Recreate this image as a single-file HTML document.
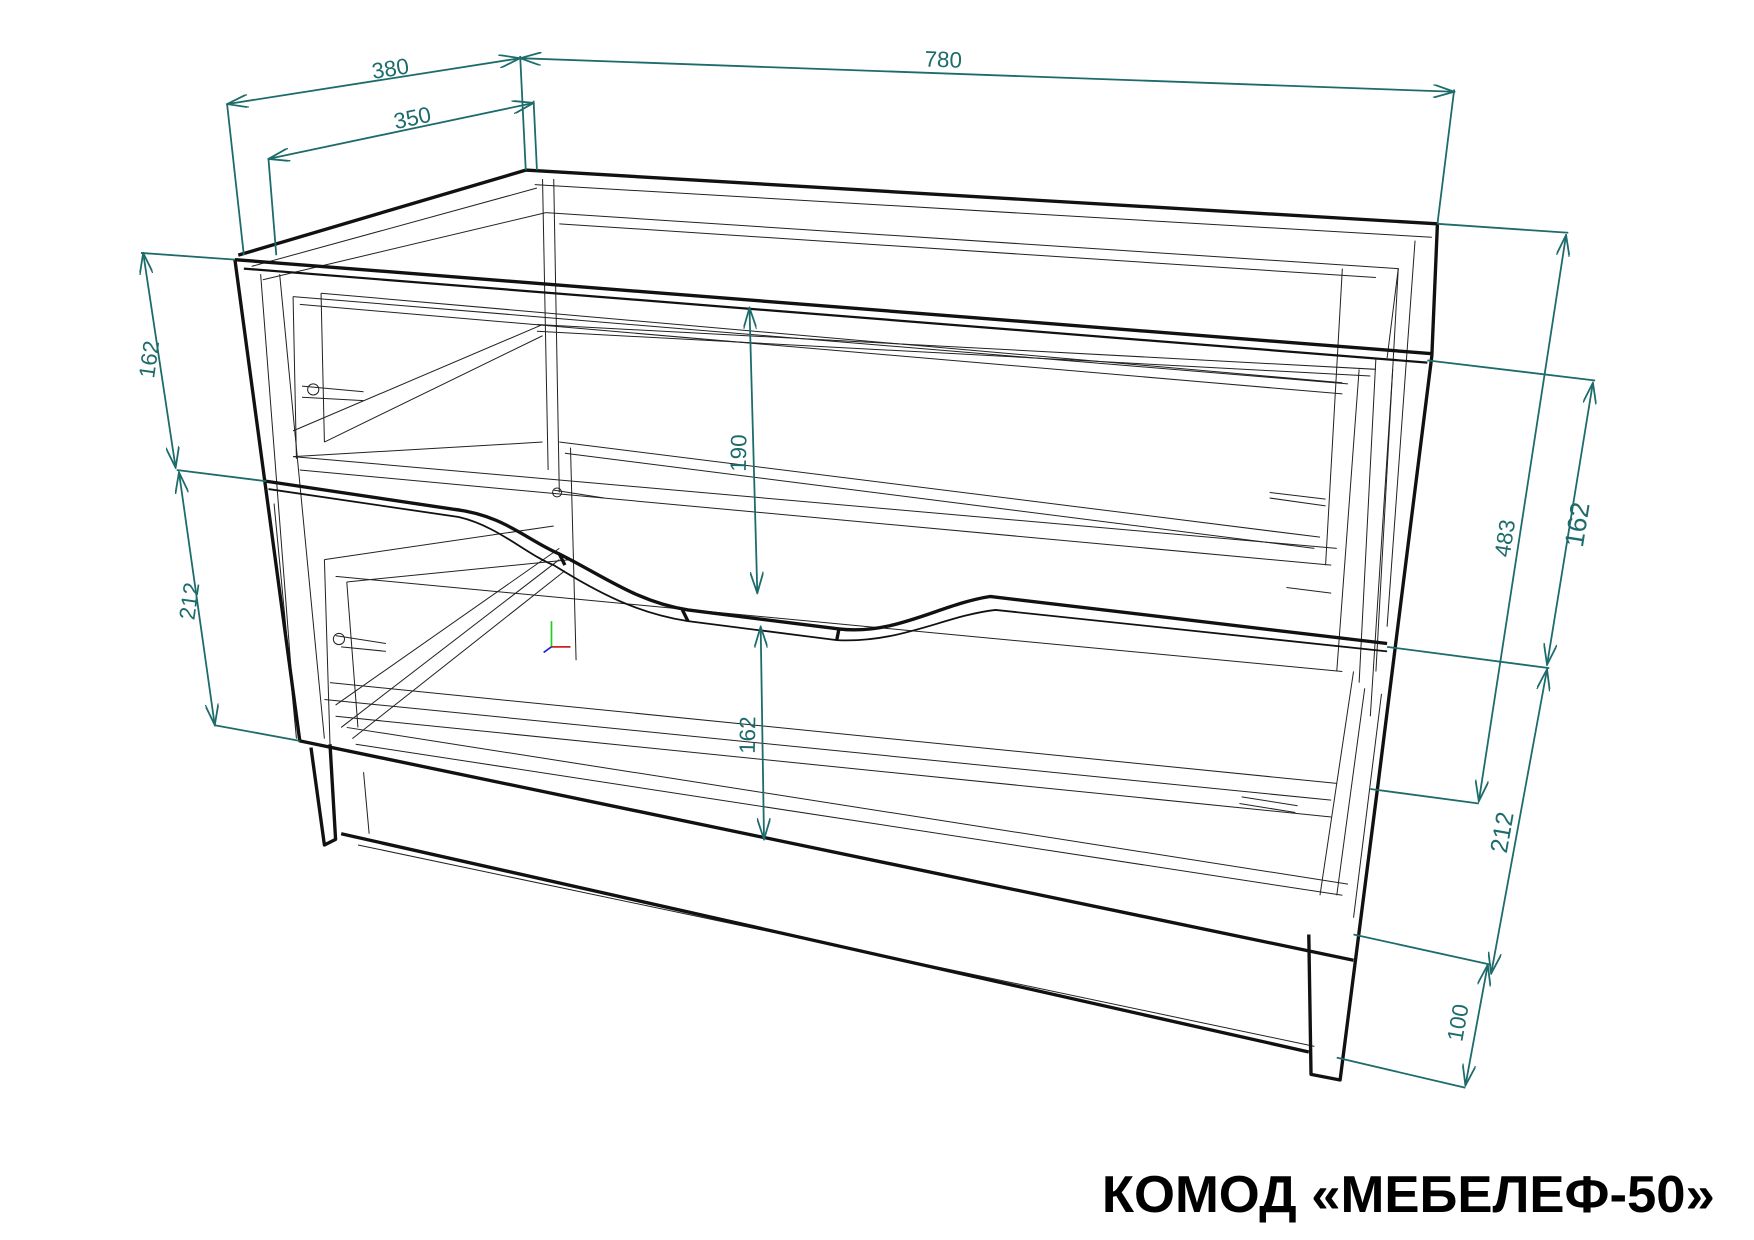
<!DOCTYPE html>
<html><head><meta charset="utf-8"><style>
html,body{margin:0;padding:0;background:#fff;}
svg{display:block;}
</style></head><body>
<svg width="1754" height="1240" viewBox="0 0 1568 1108" preserveAspectRatio="none" xmlns="http://www.w3.org/2000/svg">
<defs>
<marker id="a" viewBox="0 0 20 12" refX="19" refY="6" markerWidth="20" markerHeight="12" markerUnits="userSpaceOnUse" orient="auto-start-reverse">
<path d="M0,0 L19,6 L0,12" fill="none" stroke="#1d6b6b" stroke-width="1.6"/>
</marker>
</defs>
<rect width="1568" height="1108" fill="#fff"/>
<!-- thin inner lines -->
<g stroke="#222" stroke-width="0.9" fill="none">
<path d="M478,165 L1280,212 M488,190 L1250,240 L1240,320 M500,200 L1230,248"/>
<path d="M225,238 L480,168 M235,250 L488,190 M262,265 L1205,343 M268,272 L1200,352 M287,262 L1200,342"/>
<path d="M262,265 L265,410 M287,262 L290,395 M290,395 L485,300 M262,385 L485,290 M262,408 L1195,490"/>
<path d="M485,160 L490,420 M495,160 L500,440 M480,290 L1230,330 M480,296 L1225,336"/>
<path d="M262,408 L485,395 M268,420 L1190,505 M245,450 L265,660 M233,245 L265,660 M250,245 L290,660"/>
<path d="M290,500 L495,470 M300,515 L1200,600 M310,520 L510,500 M295,610 L1195,700 M290,625 L1190,715 M300,640 L1190,730"/>
<path d="M290,500 L295,665 M310,520 L320,650 M305,650 L500,500 M315,660 L505,510 M300,630 L500,490"/>
<path d="M510,400 L515,590 M500,395 L1180,480 M505,405 L1175,490"/>
<path d="M318,665 L1200,800 M310,650 L1205,790 M320,755 L1175,935 M325,690 L330,745"/>
<path d="M1200,240 L1185,505 M1215,330 L1195,600 M1230,320 L1215,610 M1245,330 L1225,640 M1220,615 L1195,800 M1235,620 L1210,820 M1210,600 L1180,800"/>
<path d="M1250,240 L1230,600 M1265,215 L1240,560"/>
<path d="M270,345 L325,350 M270,355 L325,358 M300,568 L345,575 M305,578 L345,582 M495,438 L540,445 M1135,445 L1185,452 M1135,440 L1185,446 M1110,712 L1160,720 M1108,718 L1158,726 M1150,525 L1190,530"/>
<circle cx="280" cy="348" r="5"/><circle cx="303" cy="571" r="5"/><circle cx="498" cy="440" r="4"/>
</g>
<!-- wave handle -->
<g stroke="#111" stroke-width="3" fill="none">
<path d="M238,430 L405,455 C450,460 470,482 500,495 C540,515 570,538 615,545 L750,562 C800,568 840,540 885,533 L1240,575"/>
<path d="M240,437 L410,462 C445,470 470,495 495,505 C535,530 570,548 615,555 L748,572 C805,575 845,550 890,545 L1240,582" stroke-width="1.6"/>
<path d="M500,495 L505,505 M610,545 L615,555 M750,562 L748,572"/>
</g>
<!-- thick outer lines -->
<g stroke="#111" stroke-width="3" fill="none" stroke-linejoin="round">
<path d="M213,228 L470,152 L1285,200 L1280,318"/>
<path d="M210,232 L1280,316"/>
<path d="M218,240 L1276,324" stroke-width="2"/>
<path d="M210,232 L268,662 L1210,858"/>
<path d="M1280,318 L1232,700 L1198,965 L1172,960 L1170,835"/>
<path d="M278,668 L290,755 L300,750 L295,665"/>
<path d="M305,745 L1170,940"/>
</g>
<!-- axis icon -->
<g stroke-width="1.5"><line x1="493" y1="578" x2="493" y2="555" stroke="#2c2"/><line x1="493" y1="578" x2="510" y2="578" stroke="#c22"/><line x1="493" y1="578" x2="486" y2="583" stroke="#22c"/></g>
<!-- dimension lines -->
<g stroke="#1d6b6b" stroke-width="1.6" fill="none">
<path d="M203,93 L218,228 M465,50 L470,152 M240,142 L247,228 M477,90 L480,152 M1300,80 L1285,200"/>
<line x1="203" y1="93" x2="465" y2="52" marker-start="url(#a)" marker-end="url(#a)"/>
<line x1="240" y1="142" x2="477" y2="92" marker-start="url(#a)" marker-end="url(#a)"/>
<line x1="465" y1="52" x2="1300" y2="82" marker-start="url(#a)" marker-end="url(#a)"/>
<path d="M126,226 L210,232 M158,420 L238,430 M192,648 L268,662"/>
<line x1="128" y1="226" x2="157" y2="418" marker-start="url(#a)" marker-end="url(#a)"/>
<line x1="160" y1="422" x2="192" y2="648" marker-start="url(#a)" marker-end="url(#a)"/>
<line x1="670" y1="275" x2="677" y2="530" marker-start="url(#a)" marker-end="url(#a)"/>
<line x1="680" y1="560" x2="683" y2="750" marker-start="url(#a)" marker-end="url(#a)"/>
<path d="M1285,200 L1402,208 M1276,322 L1426,340 M1240,578 L1385,597 M1225,705 L1322,718 M1210,835 L1333,862 M1195,945 L1310,972"/>
<line x1="1400" y1="210" x2="1322" y2="716" marker-start="url(#a)" marker-end="url(#a)"/>
<line x1="1424" y1="342" x2="1383" y2="594" marker-start="url(#a)" marker-end="url(#a)"/>
<line x1="1383" y1="598" x2="1333" y2="870" marker-start="url(#a)" marker-end="url(#a)"/>
<line x1="1330" y1="862" x2="1310" y2="970" marker-start="url(#a)" marker-end="url(#a)"/>
</g>
<g fill="#1d6b6b" font-family="Liberation Sans, sans-serif" font-size="20">
<text transform="translate(350,68) rotate(-9)" text-anchor="middle">380</text>
<text transform="translate(370,112) rotate(-12)" text-anchor="middle">350</text>
<text transform="translate(843,60) rotate(2)" text-anchor="middle">780</text>
<text transform="translate(140,322) rotate(-82)" text-anchor="middle">162</text>
<text transform="translate(176,538) rotate(-82)" text-anchor="middle">212</text>
<text transform="translate(667,405) rotate(-89)" text-anchor="middle">190</text>
<text transform="translate(675,657) rotate(-89)" text-anchor="middle">162</text>
<text transform="translate(1352,482) rotate(-81)" text-anchor="middle">483</text>
<text transform="translate(1418,470) rotate(-81)" font-size="24" text-anchor="middle">162</text>
<text transform="translate(1350,745) rotate(-80)" font-size="22" text-anchor="middle">212</text>
<text transform="translate(1310,915) rotate(-80)" text-anchor="middle">100</text>
</g>
<text x="985" y="1083" font-family="Liberation Sans, sans-serif" font-weight="bold" font-size="46" textLength="548" lengthAdjust="spacingAndGlyphs" fill="#000">КОМОД «МЕБЕЛЕФ-50»</text>
</svg>
</body></html>
